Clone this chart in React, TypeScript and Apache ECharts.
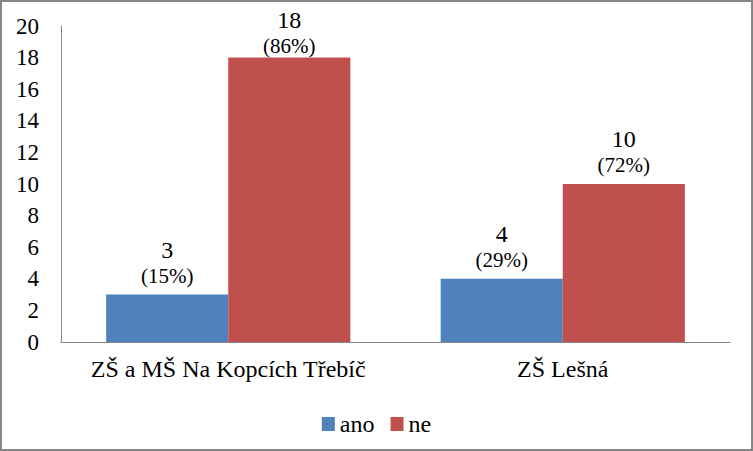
import React, { useEffect, useRef } from "react";
import * as echarts from "echarts";

const categories = ["ZŠ a MŠ Na Kopcích Třebíč", "ZŠ Lešná"];
const seriesNames = ["ano", "ne"];
const anoValues = [3, 4];
const neValues = [18, 10];
const anoPercents = ["15%", "29%"];
const nePercents = ["86%", "72%"];
const yTicks = { min: 0, max: 20, interval: 2 };

const FONT = "Liberation Serif";

export default function App() {
  const ref = useRef<HTMLDivElement>(null);
  useEffect(() => {
    document.body.style.margin = "0";
    const chart = echarts.init(ref.current!, null, { renderer: "svg" });
    const mkLabel = (pcts: string[]) => ({
      show: true,
      position: "top",
      distance: 6,
      formatter: (p: any) => `{a|${p.value}}\n{b|(${pcts[p.dataIndex]})}`,
      rich: {
        a: { fontFamily: FONT, fontSize: 24, color: "#000", lineHeight: 26 },
        b: { fontFamily: FONT, fontSize: 21, color: "#000", lineHeight: 26 },
      },
    });
    // labels near the top of the plot are pushed down so they stay inside the chart
    const toData = (vals: number[]) =>
      vals.map((v) => (v > yTicks.max - 3 ? { value: v, label: { distance: -1 } } : v));
    chart.setOption({
      animation: false,
      backgroundColor: "#fff",
      textStyle: { fontFamily: FONT },
      grid: { left: 61, right: 23, top: 26, bottom: 109 },
      legend: {
        data: seriesNames,
        top: 407,
        left: "center",
        itemWidth: 13,
        itemHeight: 14,
        itemGap: 16,
        icon: "rect",
        textStyle: { fontFamily: FONT, fontSize: 24, color: "#000" },
      },
      xAxis: {
        type: "category",
        data: categories,
        axisLine: { lineStyle: { color: "#868686", width: 1 } },
        axisTick: { show: false },
        axisLabel: { fontFamily: FONT, fontSize: 24, color: "#000", margin: 15, interval: 0 },
      },
      yAxis: {
        type: "value",
        min: yTicks.min,
        max: yTicks.max,
        interval: yTicks.interval,
        axisLine: { show: true, lineStyle: { color: "#868686", width: 1 } },
        axisTick: { show: false },
        splitLine: { show: false },
        axisLabel: { fontFamily: FONT, fontSize: 23, color: "#000", margin: 22 },
      },
      series: [
        {
          name: seriesNames[0],
          type: "bar",
          data: toData(anoValues),
          barGap: "0%",
          barCategoryGap: "27%",
          itemStyle: { color: "#4F81BD" },
          label: mkLabel(anoPercents),
        },
        {
          name: seriesNames[1],
          type: "bar",
          data: toData(neValues),
          barGap: "0%",
          barCategoryGap: "27%",
          itemStyle: { color: "#C0504D" },
          label: mkLabel(nePercents),
        },
      ],
    });
    return () => chart.dispose();
  }, []);
  return (
    <div
      style={{
        width: 753,
        height: 451,
        boxSizing: "border-box",
        border: "2px solid #868686",
        position: "relative",
        overflow: "hidden",
      }}
    >
      <div ref={ref} style={{ position: "absolute", left: -2, top: -2, width: 753, height: 451 }} />
    </div>
  );
}
